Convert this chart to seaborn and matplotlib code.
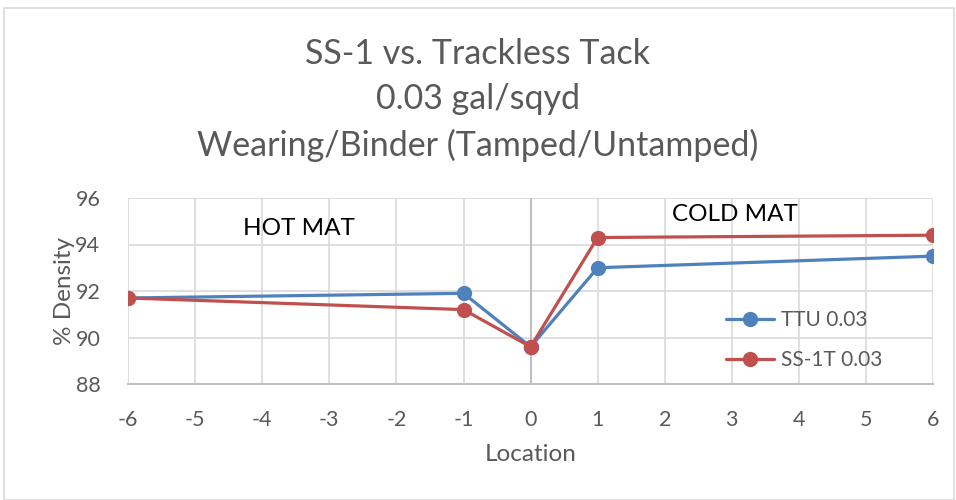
import matplotlib
matplotlib.use("Agg")
import matplotlib.pyplot as plt
import seaborn as sns
import pandas as pd
from matplotlib.patches import Rectangle

location = [-6, -1, 0, 1, 6]
ttu = [91.7, 91.9, 89.6, 93.0, 93.5]
ss1t = [91.7, 91.2, 89.6, 94.3, 94.4]
series_names = ["TTU 0.03", "SS-1T 0.03"]
colors = ["#4F81BD", "#C0504D"]
x_ticks = list(range(-6, 7))
y_ticks = [88, 90, 92, 94, 96]
title = "SS-1 vs. Trackless Tack\n0.03 gal/sqyd\nWearing/Binder (Tamped/Untamped)"

df = pd.DataFrame({
    "Location": location * 2,
    "Density": ttu + ss1t,
    "Series": [series_names[0]] * len(location) + [series_names[1]] * len(location),
})

sns.set_style("white")
plt.rcParams["font.family"] = ["Lato", "DejaVu Sans"]

fig = plt.figure(figsize=(9.56, 5.0), dpi=100)
ax = fig.add_axes([0.134, 0.232, 0.842, 0.372])

fig.patches.append(Rectangle((0.004, 0.0), 0.994, 0.984, transform=fig.transFigure,
                             fill=False, edgecolor="#D9D9D9", linewidth=1.2))

sns.lineplot(data=df, x="Location", y="Density", hue="Series", palette=colors,
             marker="o", markersize=11, markeredgewidth=0, linewidth=2.3, ax=ax,
             zorder=5)

ax.set_xlim(-6, 6)
ax.set_ylim(88, 96)
ax.set_xticks(x_ticks)
ax.set_yticks(y_ticks)
ax.set_xticklabels([str(t) for t in x_ticks])
ax.grid(True, color="#D9D9D9", linewidth=1.2)
ax.axvline(0, color="#BFBFBF", linewidth=1.5, zorder=2)
for s in ["top", "right", "left"]:
    ax.spines[s].set_visible(False)
ax.spines["bottom"].set_color("#BFBFBF")
ax.spines["bottom"].set_linewidth(1.5)
ax.tick_params(axis="x", length=0, labelsize=15.5, colors="#595959", pad=19)
ax.tick_params(axis="y", length=0, labelsize=15.5, colors="#595959", pad=20)
ax.set_xlabel("Location", fontsize=17.5, color="#595959", labelpad=10)
ax.set_ylabel("% Density", fontsize=17.5, color="#595959", labelpad=0)

ax.text(-3.45, 94.7, "HOT MAT", fontsize=17.5, color="black", ha="center", va="center")
ax.text(3.05, 95.3, "COLD MAT", fontsize=17.5, color="black", ha="center", va="center")

fig.suptitle(title, fontsize=24.5, color="#595959", y=0.8, va="center", linespacing=1.5)

leg = ax.legend(loc="center left", bbox_to_anchor=(0.72, 0.235), frameon=False,
                fontsize=15, handlelength=2.3, labelspacing=0.95, handletextpad=0.3)
for t in leg.get_texts():
    t.set_color("#595959")

fig.savefig("out.png", dpi=100)
